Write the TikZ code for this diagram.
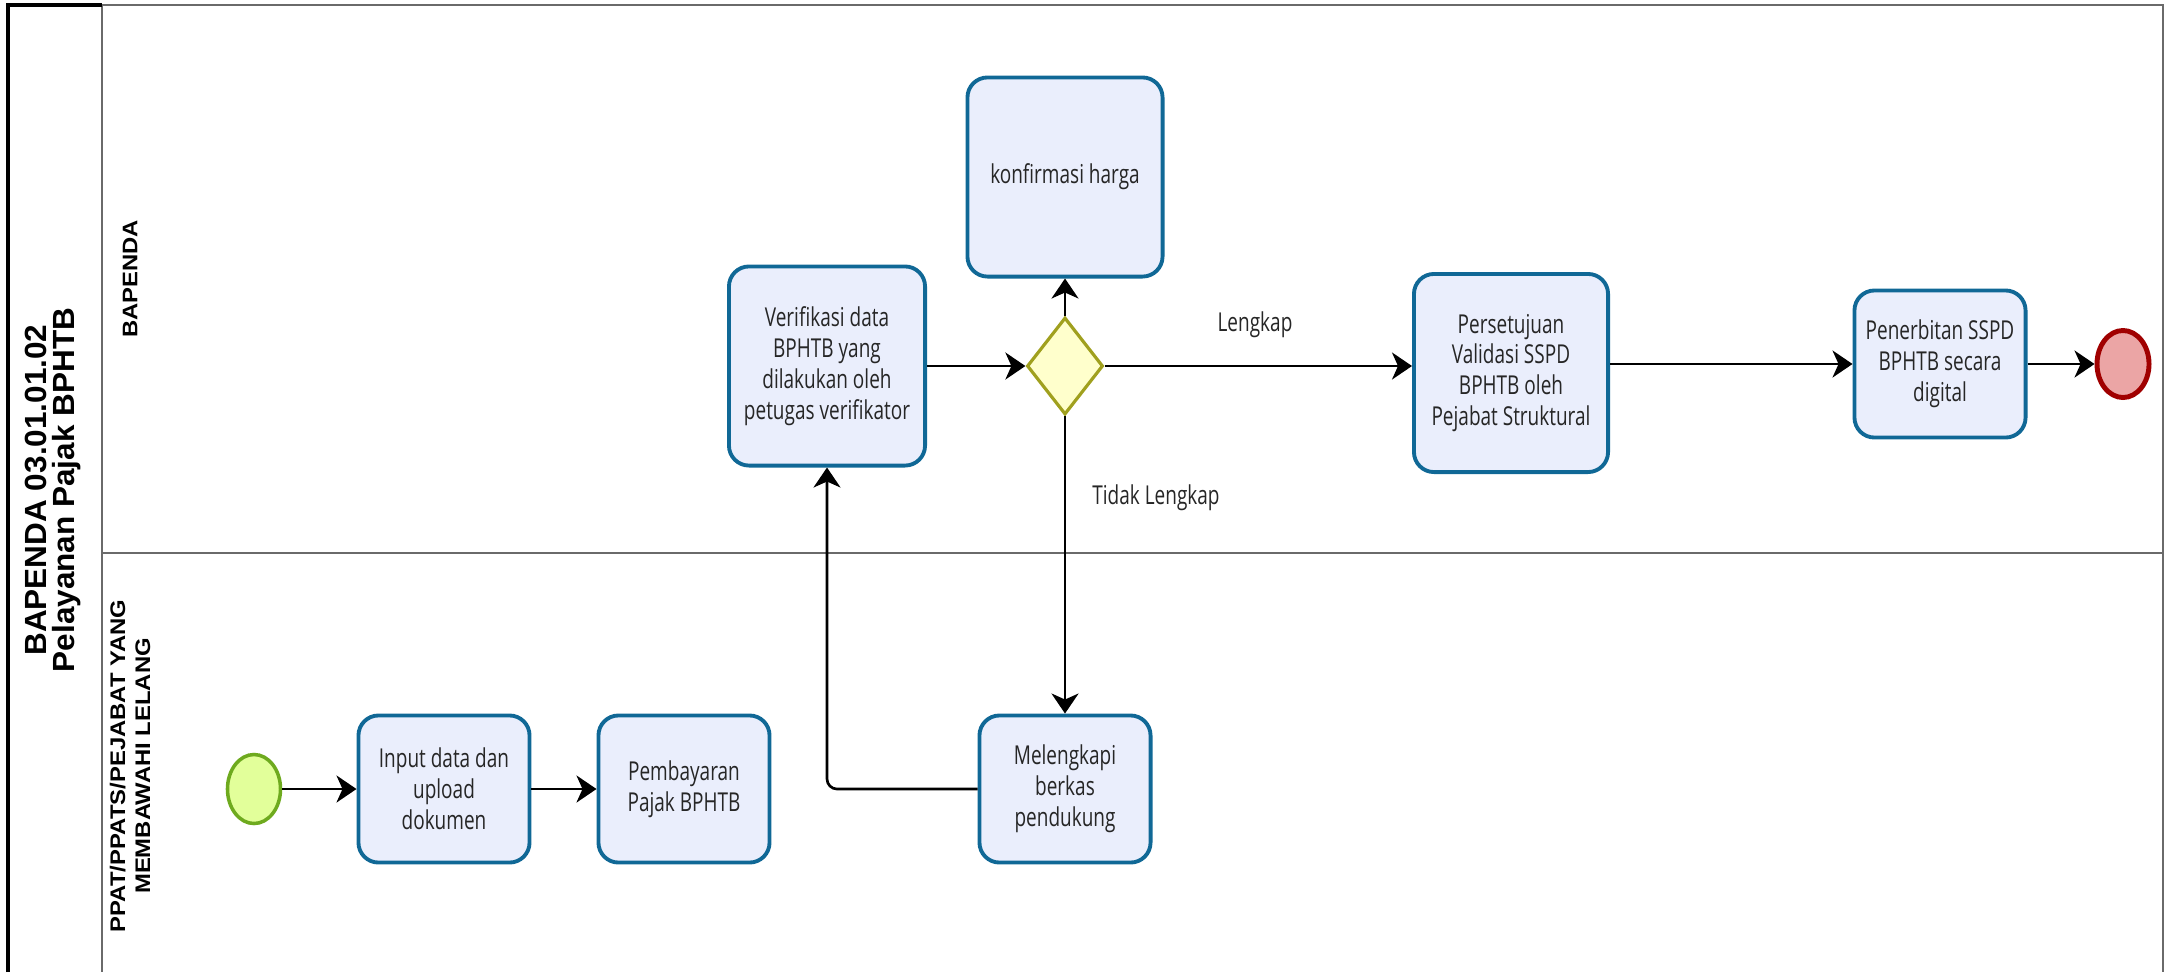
\documentclass[tikz,border=0pt]{standalone}
\usepackage{fontspec}
\setmainfont{Open Sans}[FakeStretch=0.73]
\newfontfamily\titlefont{Liberation Sans}[FakeStretch=1.03]
\newfontfamily\lanefont{Liberation Sans}[FakeStretch=1.13]
\usepackage{tikz}
\usetikzlibrary{shapes.geometric,arrows.meta}

\definecolor{taskline}{HTML}{106896}
\definecolor{taskfill}{HTML}{EAEEFC}
\definecolor{gateline}{HTML}{A0A01E}
\definecolor{gatefill}{HTML}{FFFFCC}
\definecolor{startline}{HTML}{6EAA1E}
\definecolor{startfill}{HTML}{E2FF9A}
\definecolor{endline}{HTML}{A00000}
\definecolor{endfill}{HTML}{EBA5A5}
\definecolor{poolline}{HTML}{6A6A6A}

\begin{document}
\begin{tikzpicture}[x=0.01cm, y=-0.01cm,
    task/.style={draw=taskline, fill=taskfill, line width=1.1pt, rounded corners=0.2cm,
      minimum width=1.71cm, minimum height=1.47cm, inner sep=0pt, align=center,
      text=black!85, font=\fontsize{7.4}{8.8}\selectfont},
    bigtask/.style={task, minimum width=1.96cm, minimum height=1.99cm},
    gatebox/.style={diamond, draw=gateline, fill=gatefill, line width=0.9pt,
      minimum width=0.76cm, minimum height=0.97cm, inner sep=0pt},
    startev/.style={ellipse, draw=startline, fill=startfill, line width=1pt,
      minimum width=0.53cm, minimum height=0.69cm, inner sep=0pt},
    endev/.style={ellipse, draw=endline, fill=endfill, line width=1.4pt,
      minimum width=0.52cm, minimum height=0.67cm, inner sep=0pt},
    flow/.style={draw=black, line width=0.75pt, -{Stealth[length=0.2cm, width=0.27cm, inset=0.06cm]}},
    flowlabel/.style={text=black!85, font=\fontsize{7.4}{8.8}\selectfont},
    lanelabel/.style={rotate=90, align=center, font=\lanefont\bfseries\fontsize{6}{7.1}\selectfont},
    poolline/.style={draw=poolline, line width=0.6pt}]
    \useasboundingbox (0,0) rectangle (2170,972);
    % pool and lanes
    \draw[poolline] (102,5) -- (2163,5) -- (2163,972);
    \draw[poolline] (102,5) -- (102,972);
    \draw[poolline] (102,553) -- (2163,553);
    \draw[black, line width=0.9pt] (8,972) -- (8,5) -- (102,5);
    \node[rotate=90, align=center, font=\titlefont\bfseries\fontsize{8.7}{8.1}\selectfont] (pooltitle) at (53,490)
      {BAPENDA 03.01.01.02\\Pelayanan Pajak BPHTB};
    \node[lanelabel] (lanebapenda) at (130,279) {BAPENDA};
    \node[lanelabel] (laneppat) at (130,766) {PPAT/PPATS/PEJABAT YANG\\MEMBAWAHI LELANG};

    % lane PPAT
    \node[startev] (start) at (254,789) {};
    \node[task] (input) at (444,789) {Input data dan\\upload\\dokumen};
    \node[task] (bayar) at (684,789) {Pembayaran\\Pajak BPHTB};
    \node[task] (lengkapi) at (1065,789) {Melengkapi\\berkas\\pendukung};

    % lane BAPENDA
    \node[bigtask] (verif) at (827,366) {Verifikasi data\\BPHTB yang\\dilakukan oleh\\petugas verifikator};
    \node[bigtask, minimum width=1.95cm] (konf) at (1065,177) {konfirmasi harga};
    \node[gatebox] (gate) at (1065,366) {};
    \node[bigtask, minimum width=1.94cm, minimum height=1.98cm] (setuju) at (1511,373)
      {Persetujuan\\Validasi SSPD\\BPHTB oleh\\Pejabat Struktural};
    \node[task] (terbit) at (1940,364) {Penerbitan SSPD\\BPHTB secara\\digital};
    \node[endev] (end) at (2123,364) {};
    \node[flowlabel] (lblok) at (1255,325) {Lengkap};
    \node[flowlabel] (lblno) at (1156,498) {Tidak Lengkap};

    % flows
    \draw[flow] (start) -- (input);
    \draw[flow] (input) -- (bayar);
    \draw[flow] (verif) -- (gate);
    \draw[flow] (gate) -- (konf);
    \draw[flow] (gate) -- (gate -| setuju.west);
    \draw[flow] (gate) -- (lengkapi);
    \draw[flow] (setuju.east |- terbit) -- (terbit);
    \draw[flow] (terbit) -- (end);
    \draw[flow, rounded corners=0.1cm] (lengkapi.west) -| (verif.south);
\end{tikzpicture}
\end{document}
